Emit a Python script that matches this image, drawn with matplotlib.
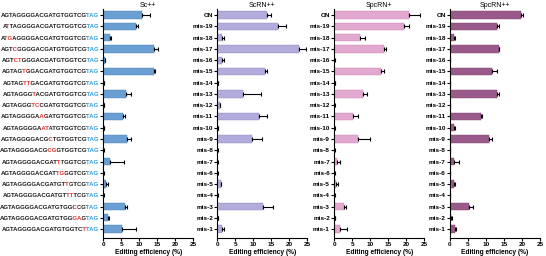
import matplotlib
matplotlib.use("Agg")
import matplotlib.pyplot as plt
from matplotlib.font_manager import FontProperties
from matplotlib.transforms import Bbox
import numpy as np

plt.rcParams['font.family'] = ['Liberation Sans', 'DejaVu Sans']

# sgRNA sequences (protospacer) and mismatch positions for Sc++ panel
seqs = ["AGTAGGGGACGATGTGGTCG", "ATTAGGGGACGATGTGGTCG", "ATGAGGGGACGATGTGGTCG",
        "AGTCGGGGACGATGTGGTCG", "AGTCTGGGACGATGTGGTCG", "AGTAGTGGACGATGTGGTCG",
        "AGTAGTTGACGATGTGGTCG", "AGTAGGGTACGATGTGGTCG", "AGTAGGGTCCGATGTGGTCG",
        "AGTAGGGGAAGATGTGGTCG", "AGTAGGGGAATATGTGGTCG", "AGTAGGGGACGCTGTGGTCG",
        "AGTAGGGGACGCGGTGGTCG", "AGTAGGGGACGATTTGGTCG", "AGTAGGGGACGATTGGGTCG",
        "AGTAGGGGACGATGTTGTCG", "AGTAGGGGACGATGTTTTCG", "AGTAGGGGACGATGTGGCCG",
        "AGTAGGGGACGATGTGGGAG", "AGTAGGGGACGATGTGGTCT"]
mism = [[], [1], [1, 2], [3], [3, 4], [5], [5, 6], [7], [7, 8], [9], [9, 10],
        [11], [11, 12], [13], [13, 14], [15], [15, 16], [17], [17, 18], [19]]
pam = "TAG"
labels = ["ON"] + ["mis-%d" % i for i in range(19, 0, -1)]

titles = ["Sc++", "ScRN++", "SpcRN+", "SpcRN++"]

sc_val = [10.8, 9.2, 1.8, 14.0, 0.4, 14.0, 0.1, 6.3, 0.1, 5.6,
          0.1, 6.5, 0.05, 1.8, 0.05, 0.9, 0.05, 6.1, 1.3, 5.2]
sc_err = [2.2, 0.5, 0.3, 1.3, 0.15, 0.3, 0.1, 1.3, 0.05, 0.4,
          0.1, 1.1, 0.05, 3.9, 0.05, 0.4, 0.05, 0.4, 0.3, 3.8]

scrn_val = [13.7, 16.8, 1.3, 22.7, 1.4, 13.3, 0.1, 7.0, 0.7, 11.7,
            0.1, 9.6, 0.05, 0.05, 0.05, 0.9, 0.05, 12.6, 0.1, 1.3]
scrn_err = [1.1, 2.2, 0.5, 2.0, 0.5, 0.6, 0.05, 5.1, 0.1, 2.2,
            0.05, 2.8, 0.05, 0.05, 0.05, 0.2, 0.05, 2.8, 0.05, 0.6]

spc_val = [20.8, 19.3, 7.2, 13.7, 0.05, 13.1, 0.1, 8.0, 0.05, 5.2,
           0.05, 6.5, 0.05, 0.7, 0.05, 0.6, 0.05, 2.8, 0.2, 1.5]
spc_err = [3.0, 1.4, 1.4, 0.7, 0.05, 0.6, 0.05, 1.1, 0.05, 1.3,
           0.05, 3.5, 0.05, 0.8, 0.05, 0.4, 0.05, 0.5, 0.1, 2.2]

spcpp_val = [19.7, 13.0, 1.2, 13.5, 0.1, 11.8, 0.05, 13.2, 0.05, 8.5,
             1.2, 10.9, 0.0, 1.2, 0.1, 1.0, 0.05, 5.3, 0.3, 1.4]
spcpp_err = [0.6, 0.6, 0.3, 0.2, 0.05, 1.2, 0.05, 0.4, 0.05, 0.4,
             0.3, 0.9, 0.0, 1.3, 0.05, 0.3, 0.05, 1.1, 0.4, 0.2]

values = [sc_val, scrn_val, spc_val, spcpp_val]
errors = [sc_err, scrn_err, spc_err, spcpp_err]
colors = ["#6a9fd3", "#b2acdc", "#e2a8d0", "#9a5a8b"]
edges = ["#4f7fb0", "#8f88bd", "#c786b3", "#7a3f6c"]

lefts = [0.189, 0.398, 0.612, 0.824]
width = 0.165
bottom, height = 0.07, 0.895

fig = plt.figure(figsize=(5.46, 2.56), dpi=100)
renderer = fig.canvas.get_renderer()
seq_fp = FontProperties(family='Liberation Sans', weight='bold', size=4.3)
y = np.arange(20)


def text_w(s):
    if s == "":
        return 0.0
    w, h, d = renderer.get_text_width_height_descent(s, seq_fp, ismath=False)
    return w


axes = []
for k in range(4):
    ax = fig.add_axes([lefts[k], bottom, width, height])
    axes.append(ax)
    v = np.array(values[k])
    e = np.array(errors[k])
    ax.barh(y, v, height=0.65, color=colors[k], edgecolor=edges[k], linewidth=0.3)
    ax.errorbar(v, y, xerr=[np.zeros(20), e], fmt='none', ecolor='black',
                elinewidth=0.8, capsize=1.6, capthick=0.8)
    ax.set_xlim(0, 25)
    ax.set_ylim(19.8, -0.55)
    ax.set_xticks([0, 5, 10, 15, 20, 25])
    ax.set_yticks(y)
    for s in ['top', 'right']:
        ax.spines[s].set_visible(False)
    for s in ['left', 'bottom']:
        ax.spines[s].set_linewidth(0.8)
    ax.tick_params(axis='both', length=2, width=0.8, pad=1, labelsize=4.6)
    for lab in ax.get_xticklabels() + ax.get_yticklabels():
        lab.set_fontweight('bold')
    ax.set_xlabel("Editing efficiency (%)", fontsize=4.8, fontweight='bold', labelpad=1)
    ax.set_title(titles[k], fontsize=5, pad=0.5)
    if k == 0:
        ax.set_yticklabels([""] * 20)
    else:
        ax.set_yticklabels(labels)

# coloured sequence labels: whole string drawn once per colour, clipped to its letters
ax = axes[0]
x_end_off = -4
x0_disp = ax.transAxes.transform((0, 0))[0]
for i in range(20):
    full = seqs[i] + pam
    n = len(full)
    cols = []
    for j in range(n):
        if j >= len(seqs[i]):
            cols.append("#2f9fe0")
        elif j in mism[i]:
            cols.append("#e8312a")
        else:
            cols.append("#1a1a1a")
    total = text_w(full)
    left = x0_disp + x_end_off - total
    # boundaries between characters (mid of gap)
    bnd = [left - 3]
    for j in range(1, n):
        a = text_w(full[:j])
        b = total - text_w(full[j:])
        bnd.append(left + (a + b) / 2)
    bnd.append(left + total + 3)
    yd = ax.transData.transform((0, i))[1]
    j = 0
    while j < n:
        t = j
        while t < n and cols[t] == cols[j]:
            t += 1
        txt = ax.annotate(full, xy=(0, i), xycoords=('axes fraction', 'data'),
                          xytext=(x_end_off, 0), textcoords='offset pixels',
                          ha='right', va='center_baseline', color=cols[j],
                          fontproperties=seq_fp, annotation_clip=False)
        txt.set_clip_box(Bbox([[bnd[j], yd - 7], [bnd[t], yd + 7]]))
        txt.set_clip_on(True)
        j = t

fig.savefig("out.png", dpi=100)
